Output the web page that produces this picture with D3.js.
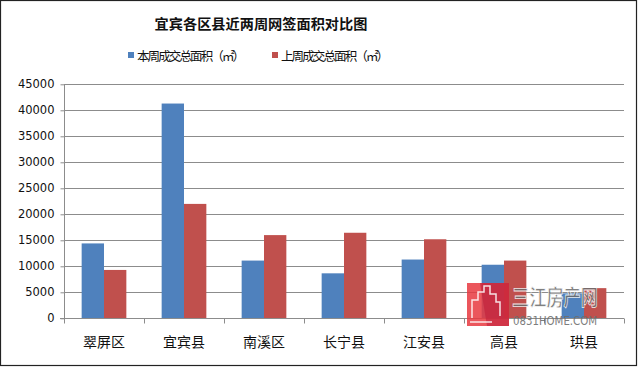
<!DOCTYPE html>
<html><head><meta charset="utf-8">
<script src="https://cdn.jsdelivr.net/npm/d3@7"></script>
<style>body{margin:0;background:#fff}svg{display:block}</style>
</head><body>
<script>
const categories = ["翠屏区","宜宾县","南溪区","长宁县","江安县","高县","珙县"];
const seriesNames = ["本周成交总面积（㎡）","上周成交总面积（㎡）"];
const thisWeek = [14400, 41300, 11100, 8650, 11300, 10300, 4800];
const lastWeek = [9300, 22000, 16000, 16450, 15200, 11100, 5800];
const yTicks = [0,5000,10000,15000,20000,25000,30000,35000,40000,45000];
const colors = ["#4F81BD","#C0504D"];

const W=640,H=367;
const svg=d3.select("body").append("svg").attr("width",W).attr("height",H);
svg.append("rect").attr("x",0.5).attr("y",0.5).attr("width",636).attr("height",365)
  .attr("fill","#fff").attr("stroke","#222").attr("stroke-width",1.2);

const font="'Noto Sans CJK SC','Noto Sans',sans-serif";
const title=svg.append("text").attr("x",261).attr("y",29).attr("text-anchor","middle")
  .attr("font-family",font).attr("font-weight","bold").attr("font-size",16.5).attr("fill","#111")
  .text("宜宾各区县近两周网签面积对比图");
// fit title to the reference width by scaling font size
const tw=title.node().getComputedTextLength();
if(tw>0) title.attr("font-size",16.5*213/tw);

// legend
const legX=[128,272];
seriesNames.forEach((n,i)=>{
  svg.append("rect").attr("x",legX[i]).attr("y",52).attr("width",6).attr("height",6).attr("fill",colors[i]);
  svg.append("text").attr("x",legX[i]+9).attr("y",60.5).attr("font-family",font).attr("font-size",12.5)
    .attr("fill","#111").attr("textLength",108).text(n);
});

const x=d3.scaleBand().domain(categories).range([64,624]);
const x1=d3.scaleBand().domain([0,1]).range([0,x.bandwidth()]).paddingInner(0).paddingOuter(0.79);
const y=d3.scaleLinear().domain([0,45000]).range([318.3,84.3]);

// gridlines
svg.append("g").selectAll("line").data(yTicks.slice(1)).join("line")
  .attr("x1",64).attr("x2",624).attr("y1",d=>Math.round(y(d))+0.5).attr("y2",d=>Math.round(y(d))+0.5)
  .attr("stroke","#8c8c8c").attr("stroke-width",1);

// bars
const series=[thisWeek,lastWeek];
series.forEach((vals,si)=>{
  svg.append("g").selectAll("rect").data(vals).join("rect")
    .attr("x",(d,i)=>x(categories[i])+x1(si))
    .attr("width",x1.bandwidth())
    .attr("y",d=>y(d)).attr("height",d=>y(0)-y(d))
    .attr("fill",colors[si]);
});

// y axis
const ya=svg.append("g").attr("transform","translate(64.5,0)")
  .call(d3.axisLeft(y).tickValues(yTicks).tickSize(4).tickPadding(6).tickFormat(d3.format("d")));
ya.selectAll("text").attr("font-family","'DejaVu Sans',sans-serif").attr("font-size",11.5).attr("fill","#111");
ya.selectAll("line,path").attr("stroke","#8c8c8c");
ya.select(".domain").attr("d","M0,84.3V318.5");

// x axis
const xa=svg.append("g").attr("transform","translate(0,318.5)");
xa.append("line").attr("x1",60).attr("x2",624).attr("stroke","#8c8c8c");
xa.selectAll("line.t").data(categories.concat(["end"])).join("line").attr("class","t")
  .attr("x1",(d,i)=>Math.round(64+i*x.bandwidth())+0.5).attr("x2",(d,i)=>Math.round(64+i*x.bandwidth())+0.5)
  .attr("y1",0).attr("y2",5).attr("stroke","#8c8c8c");
xa.selectAll("text").data(categories).join("text")
  .attr("x",d=>x(d)+x.bandwidth()/2).attr("y",28.5).attr("text-anchor","middle")
  .attr("font-family",font).attr("font-size",14).attr("fill","#111").text(d=>d);

// watermark
const wm=svg.append("g");
wm.append("rect").attr("x",467).attr("y",283).attr("width",42).attr("height",43).attr("fill","#e8383f").attr("opacity",0.85);
wm.append("path").attr("d","M480,283 h29 v43 h-22 z").attr("fill","#c0203a").attr("opacity",0.6);
wm.append("path").attr("d","M472,318 V300 h6 v-8 h6 v-6 h6 v8 h6 v8 h4 v14 M470,322 h22").attr("fill","none").attr("stroke","#fff").attr("stroke-width",1.5).attr("opacity",0.85);
wm.append("text").attr("x",512).attr("y",305).attr("font-family",font).attr("font-size",22).attr("font-weight","bold")
  .attr("fill","#6a6a6a").attr("stroke","#fff").attr("stroke-width",0.8).attr("opacity",0.85)
  .attr("textLength",86).attr("lengthAdjust","spacingAndGlyphs").text("三江房产网");
wm.append("text").attr("x",513).attr("y",325).attr("font-family","'Liberation Sans Narrow','DejaVu Sans Condensed',sans-serif").attr("font-size",12.5)
  .attr("fill","#6f6f6f").attr("opacity",0.9).attr("textLength",84).attr("lengthAdjust","spacingAndGlyphs").text("0831HOME.COM");
</script>
</body></html>
